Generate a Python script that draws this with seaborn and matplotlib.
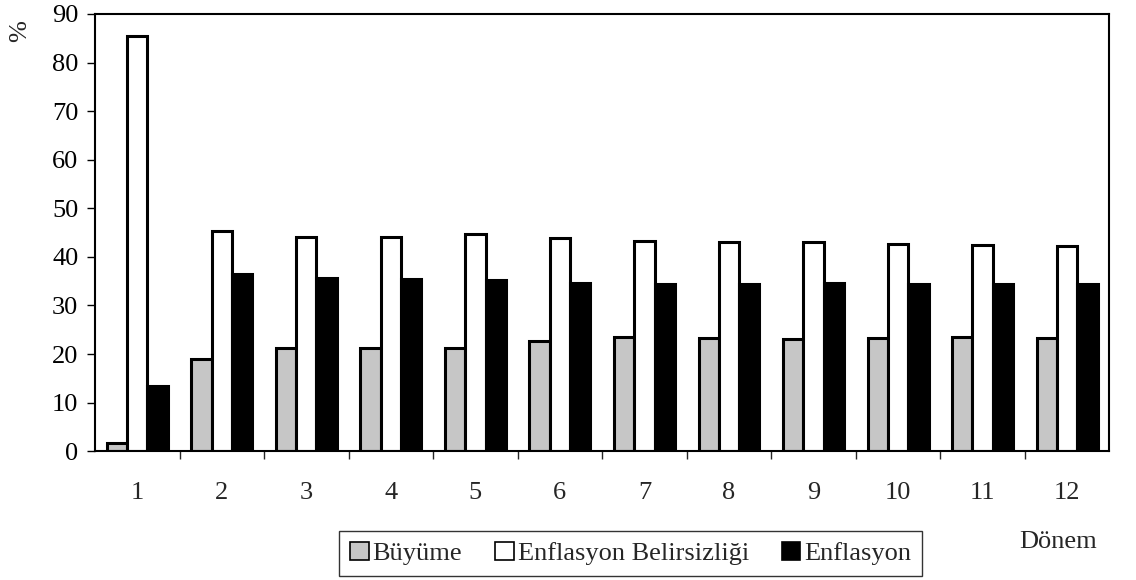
import matplotlib
matplotlib.use("Agg")
import matplotlib.pyplot as plt
import seaborn as sns
import pandas as pd
import numpy as np
from matplotlib.ticker import FixedLocator, NullFormatter

periods = ["1", "2", "3", "4", "5", "6", "7", "8", "9", "10", "11", "12"]
buyume = [1.6, 18.9, 21.2, 21.2, 21.2, 22.7, 23.5, 23.3, 23.2, 23.4, 23.5, 23.4]
belirsizlik = [85.4, 45.3, 44.1, 44.0, 44.7, 43.8, 43.3, 43.0, 43.0, 42.7, 42.5, 42.3]
enflasyon = [13.4, 36.4, 35.6, 35.4, 35.2, 34.6, 34.4, 34.5, 34.7, 34.5, 34.5, 34.4]
series_names = ["Büyüme", "Enflasyon Belirsizliği", "Enflasyon"]

df = pd.DataFrame({
    "Dönem": periods * 3,
    "Seri": [series_names[0]] * 12 + [series_names[1]] * 12 + [series_names[2]] * 12,
    "Değer": buyume + belirsizlik + enflasyon,
})

sns.set_theme(style="white")
plt.rcParams["font.family"] = ["Liberation Serif", "DejaVu Serif"]

fig = plt.figure(figsize=(11.36, 5.80), dpi=100)
ax = fig.add_axes([0.0836, 0.222, 0.893, 0.754])

palette = {series_names[0]: "#c6c6c6", series_names[1]: "#ffffff", series_names[2]: "#000000"}
sns.barplot(data=df, x="Dönem", y="Değer", hue="Seri", order=periods,
            hue_order=series_names, palette=palette, width=0.72,
            edgecolor="black", linewidth=2.2, saturation=1, ax=ax, legend=True)

ax.set_ylim(0, 90)
ax.set_xlim(-0.5, 11.5)
ax.set_yticks(np.arange(0, 91, 10))
ax.tick_params(axis="y", direction="out", length=6, width=1, colors="black",
               labelsize=19, left=True, pad=6)
# category ticks between groups, labels at centers
ax.xaxis.set_major_locator(FixedLocator(np.arange(0.5, 11, 1)))
ax.xaxis.set_major_formatter(NullFormatter())
ax.xaxis.set_minor_locator(FixedLocator(np.arange(12)))
ax.set_xticklabels(periods, minor=True)
ax.tick_params(axis="x", which="major", direction="out", length=6, width=1, bottom=True)
ax.tick_params(axis="x", which="minor", length=0, labelsize=19, pad=22)
for s in ax.spines.values():
    s.set_color("black")
    s.set_linewidth(1.5)

ax.set_xlabel("")
ax.set_ylabel("")
ax.text(-0.074, 0.96, "%", transform=ax.transAxes, rotation=90,
        fontsize=19, ha="center", va="center")
ax.text(0.988, -0.208, "Dönem", transform=ax.transAxes, fontsize=19,
        ha="right", va="center")

leg = ax.legend(loc="upper center", bbox_to_anchor=(0.528, -0.183), ncol=3,
                frameon=True, fancybox=False, fontsize=19, handlelength=0.7,
                handleheight=0.7, handletextpad=0.15, columnspacing=1.25,
                borderpad=0.4, borderaxespad=0, edgecolor="black")
leg.get_frame().set_linewidth(1.0)
for h in leg.legend_handles:
    h.set_linewidth(1.2)

fig.savefig("out.png", dpi=100)
